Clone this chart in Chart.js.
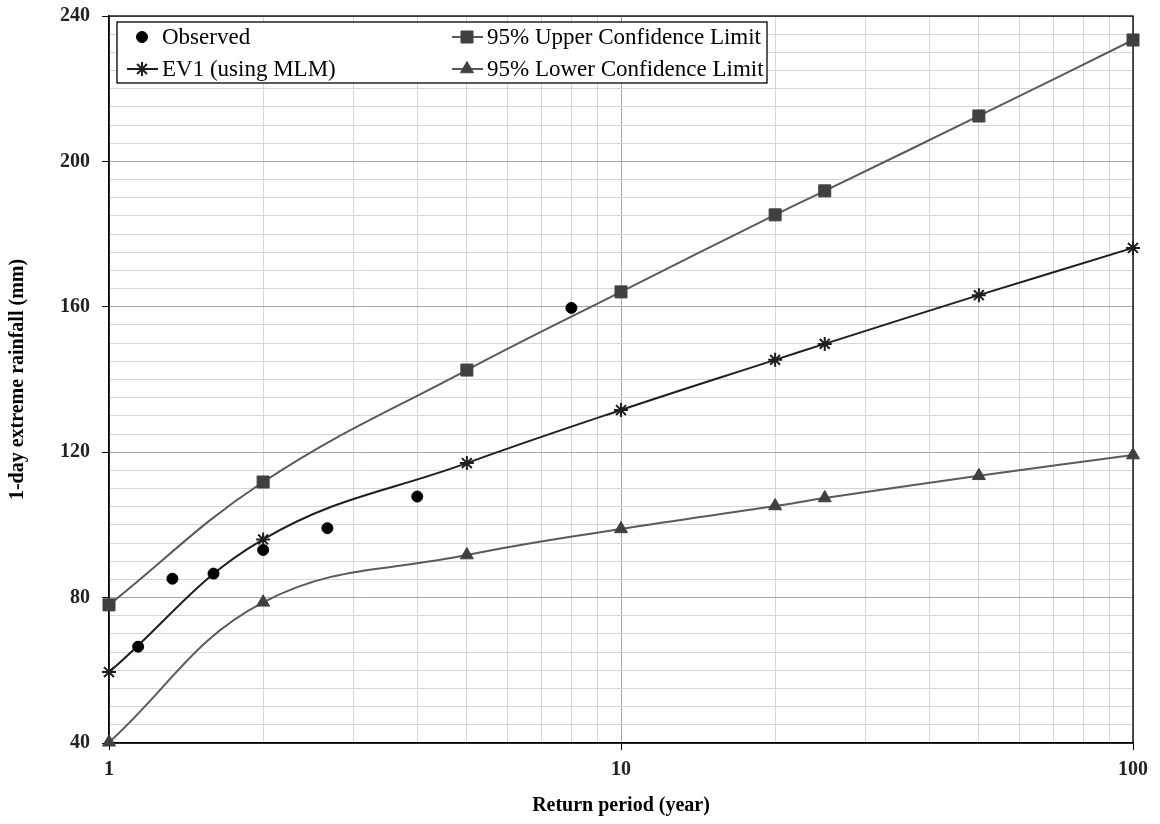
<!DOCTYPE html>
<html>
<head>
<meta charset="utf-8">
<script src="https://cdn.jsdelivr.net/npm/chart.js@4.4.1/dist/chart.umd.min.js"></script>
<style>
  html, body { margin: 0; padding: 0; background: #fff; }
</style>
</head>
<body>
<canvas id="rainChart" width="1160" height="824"></canvas>
<script>
// return periods (year) for the fitted curve and its confidence band
const returnPeriods = [1, 2, 5, 10, 20, 25, 50, 100];
const ev1Rain = [59.5, 96, 117, 131.6, 145.4, 149.8, 163.2, 176.2];
const upperRain = [78, 111.8, 142.6, 164.1, 185.3, 191.9, 212.5, 233.4];
const lowerRain = [40.2, 78.7, 91.7, 98.9, 105.2, 107.4, 113.5, 119.2];

// observed annual maxima (Weibull plotting positions)
const obsPeriods = [1.14, 1.33, 1.6, 2, 2.67, 4, 8];
const obsRain = [66.5, 85.2, 86.6, 93.1, 99.1, 107.8, 159.7];

// axis ticks
const xGridValues = [1, 2, 3, 4, 5, 6, 7, 8, 9, 10, 20, 30, 40, 50, 60, 70, 80, 90, 100];
const xTickLabels = [1, 10, 100];
const yTickLabels = [40, 80, 120, 160, 200, 240];

const FONT = '"Liberation Serif", "Times New Roman", serif';

function pairs(xs, ys) {
  return xs.map((x, i) => ({ x: x, y: ys[i] }));
}

// marker drawing for the legend (falls back to a plain circle)
function drawMarker(ctx, ds, x, y) {
  const opts = {
    pointStyle: ds.pointStyle,
    radius: ds.pointRadius,
    rotation: 0,
    borderWidth: ds.pointBorderWidth
  };
  ctx.fillStyle = ds.pointBackgroundColor;
  ctx.strokeStyle = ds.pointBorderColor;
  ctx.lineWidth = ds.pointBorderWidth;
  if (Chart.helpers && Chart.helpers.drawPoint) {
    Chart.helpers.drawPoint(ctx, opts, x, y);
  } else {
    ctx.beginPath();
    ctx.arc(x, y, ds.pointRadius, 0, Math.PI * 2);
    ctx.fill();
  }
}

// frame round the plot area + the boxed legend in the top left corner
const framePlugin = {
  id: 'frameAndLegend',
  beforeDatasetsDraw(chart) {
    const a = chart.chartArea;
    const ctx = chart.ctx;
    ctx.save();
    ctx.strokeStyle = '#000';
    ctx.lineWidth = 1.3;
    ctx.strokeRect(a.left, a.top, a.right - a.left, a.bottom - a.top);
    ctx.restore();
  },
  afterDraw(chart) {
    const ctx = chart.ctx;
    const box = { left: 117, top: 22, right: 767, bottom: 83 };
    const slots = [[127, 37], [127, 69], [452, 37], [452, 69]];
    ctx.save();
    ctx.fillStyle = '#fff';
    ctx.fillRect(box.left, box.top, box.right - box.left, box.bottom - box.top);
    ctx.strokeStyle = '#000';
    ctx.lineWidth = 1.3;
    ctx.strokeRect(box.left, box.top, box.right - box.left, box.bottom - box.top);
    chart.data.datasets.forEach((ds, i) => {
      const [sx, sy] = slots[i];
      if (ds.showLine !== false) {
        ctx.strokeStyle = ds.borderColor;
        ctx.lineWidth = ds.borderWidth;
        ctx.beginPath();
        ctx.moveTo(sx, sy);
        ctx.lineTo(sx + 31, sy);
        ctx.stroke();
      }
      drawMarker(ctx, ds, sx + 15, sy);
      ctx.fillStyle = '#000';
      ctx.font = '23px ' + FONT;
      ctx.textBaseline = 'middle';
      ctx.textAlign = 'left';
      ctx.fillText(ds.label, sx + 35, sy + 1);
    });
    ctx.restore();
  }
};

const ctx = document.getElementById('rainChart').getContext('2d');

const myChart = new Chart(ctx, {
  type: 'line',
  data: {
    datasets: [
      {
        label: 'Observed',
        data: pairs(obsPeriods, obsRain),
        showLine: false,
        pointStyle: 'circle',
        pointRadius: 5.5,
        pointBackgroundColor: '#000',
        pointBorderColor: '#000',
        pointBorderWidth: 1,
        borderColor: '#000',
        clip: false,
        order: 0
      },
      {
        label: 'EV1 (using MLM)',
        data: pairs(returnPeriods, ev1Rain),
        borderColor: '#1e1e1e',
        borderWidth: 2,
        tension: 0.4,
        pointStyle: 'star',
        pointRadius: 7,
        pointBackgroundColor: '#1e1e1e',
        pointBorderColor: '#1e1e1e',
        pointBorderWidth: 2,
        clip: false,
        order: 1
      },
      {
        label: '95% Upper Confidence Limit',
        data: pairs(returnPeriods, upperRain),
        borderColor: '#5a5a5a',
        borderWidth: 2,
        tension: 0.4,
        pointStyle: 'rect',
        pointRadius: 8.5,
        pointBackgroundColor: '#404040',
        pointBorderColor: '#404040',
        pointBorderWidth: 1,
        clip: false,
        order: 2
      },
      {
        label: '95% Lower Confidence Limit',
        data: pairs(returnPeriods, lowerRain),
        borderColor: '#5a5a5a',
        borderWidth: 2,
        tension: 0.4,
        pointStyle: 'triangle',
        pointRadius: 7.5,
        pointBackgroundColor: '#404040',
        pointBorderColor: '#404040',
        pointBorderWidth: 1,
        clip: false,
        order: 2
      }
    ]
  },
  options: {
    responsive: false,
    animation: false,
    devicePixelRatio: 1,
    layout: { padding: { top: 16, right: 27, left: 0, bottom: 0 } },
    plugins: {
      legend: { display: false },
      tooltip: { enabled: false }
    },
    scales: {
      x: {
        type: 'logarithmic',
        min: 1,
        max: 100,
        afterBuildTicks: (scale) => {
          scale.ticks = xGridValues.map(v => ({ value: v, major: xTickLabels.includes(v) }));
        },
        afterFit: (scale) => { scale.height = 81; },
        ticks: {
          autoSkip: false,
          maxRotation: 0,
          padding: 8,
          color: '#222',
          font: { family: FONT, size: 20, weight: 'bold' },
          callback: (v) => xTickLabels.includes(v) ? String(v) : ''
        },
        grid: {
          color: (c) => (c.tick && xTickLabels.includes(c.tick.value)) ? '#a6a6a6' : '#d6d6d6',
          tickColor: (c) => (c.tick && xTickLabels.includes(c.tick.value)) ? '#000' : 'rgba(0,0,0,0)',
          tickLength: 7,
          lineWidth: 1
        },
        border: { color: '#000', width: 1.3 },
        title: {
          display: true,
          text: 'Return period (year)',
          color: '#000',
          font: { family: FONT, size: 20, weight: 'bold' },
          padding: { top: 4, bottom: 6 }
        }
      },
      y: {
        type: 'linear',
        min: 40,
        max: 240,
        afterFit: (scale) => {
          scale.width = 109;
          scale.paddingTop = 0;
          scale.paddingBottom = 0;
        },
        ticks: {
          stepSize: 5,
          maxTicksLimit: 100,
          autoSkip: false,
          padding: 12,
          color: '#222',
          font: { family: FONT, size: 20, weight: 'bold' },
          callback: (v) => yTickLabels.includes(v) ? String(v) : ''
        },
        grid: {
          color: (c) => (c.tick && yTickLabels.includes(c.tick.value)) ? '#a6a6a6' : '#d6d6d6',
          tickColor: (c) => (c.tick && yTickLabels.includes(c.tick.value)) ? '#000' : 'rgba(0,0,0,0)',
          tickLength: 7,
          lineWidth: 1
        },
        border: { color: '#000', width: 1.3 },
        title: {
          display: true,
          text: '1-day extreme rainfall (mm)',
          color: '#000',
          font: { family: FONT, size: 20, weight: 'bold' },
          padding: { top: 6, bottom: 4 }
        }
      }
    }
  },
  plugins: [framePlugin]
});
</script>
</body>
</html>
